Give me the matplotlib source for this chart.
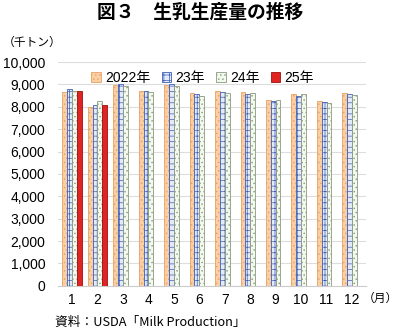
import numpy as np
import matplotlib as mpl
import matplotlib.pyplot as plt

mpl.rcParams['hatch.linewidth'] = 0.5
plt.rcParams['font.family'] = ['Liberation Sans', 'Noto Sans CJK JP', 'DejaVu Sans']

months = ['1', '2', '3', '4', '5', '6', '7', '8', '9', '10', '11', '12']
y2022 = [8660, 7980, 8960, 8700, 8970, 8600, 8720, 8650, 8290, 8560, 8270, 8600]
y2023 = [8780, 8070, 9000, 8720, 9000, 8590, 8650, 8560, 8260, 8480, 8200, 8570]
y2024 = [8700, 8270, 8940, 8660, 8930, 8480, 8600, 8600, 8300, 8560, 8190, 8510]
y2025 = [8720, 8070]
labels = ['2022年', '23年', '24年', '25年']


def main():
    fig = plt.figure(figsize=(4.0, 3.32), dpi=100)
    ax = fig.add_axes([0.145, 0.139, 0.77, 0.674])

    x = np.arange(len(months))
    w = 0.19
    styles = [
        dict(color='#F9CFA6', edgecolor='#E8A060', hatch='....'),
        dict(color='#E4EAF8', edgecolor='#3F5FB8', hatch='+++'),
        dict(color='#F4F9EE', edgecolor='#8A9A80', hatch='....'),
        dict(color='#E02424', edgecolor='#A01010', hatch=None),
    ]
    series = [y2022, y2023, y2024, y2025]
    for i, (vals, st) in enumerate(zip(series, styles)):
        xs = x[:len(vals)] + (i - 1.5) * w
        ax.bar(xs, vals, w, label=labels[i], linewidth=0.6, zorder=3, **st)

    ax.set_ylim(0, 10000)
    ax.set_xlim(-0.55, 11.55)
    ax.set_yticks(np.arange(0, 10001, 1000))
    ax.set_yticklabels([f'{v:,}' for v in range(0, 10001, 1000)], fontsize=10)
    ax.set_xticks(x)
    ax.set_xticklabels(months, fontsize=10)
    ax.tick_params(axis='y', length=0, pad=9)
    ax.tick_params(axis='x', length=0, pad=5)
    ax.grid(axis='y', color='#DDDDDD', linewidth=0.8, zorder=0)
    for s in ['top', 'right', 'left']:
        ax.spines[s].set_visible(False)
    ax.spines['bottom'].set_color('#CCCCCC')

    ax.legend(loc='upper center', bbox_to_anchor=(0.47, 0.985), ncol=4, frameon=False,
              fontsize=10, handlelength=0.7, handleheight=0.7, handletextpad=0.3,
              columnspacing=0.8, borderaxespad=0)

    fig.text(0.5, 0.962, '図３　生乳生産量の推移', ha='center', va='center',
             fontsize=13.5, fontweight='bold', family=['Noto Sans CJK JP'])
    fig.text(0.008, 0.873, '（千トン）', ha='left', va='center', fontsize=8.5,
             family=['Noto Sans CJK JP'])
    fig.text(0.995, 0.102, '（月）', ha='right', va='center', fontsize=8.5,
             family=['Noto Sans CJK JP'])
    fig.text(0.137, 0.03, '資料：USDA「Milk Production」', ha='left', va='center',
             fontsize=9.2, family=['Noto Sans CJK JP'])

    fig.savefig('out.png', dpi=100)


if __name__ == "__main__":
    main()
